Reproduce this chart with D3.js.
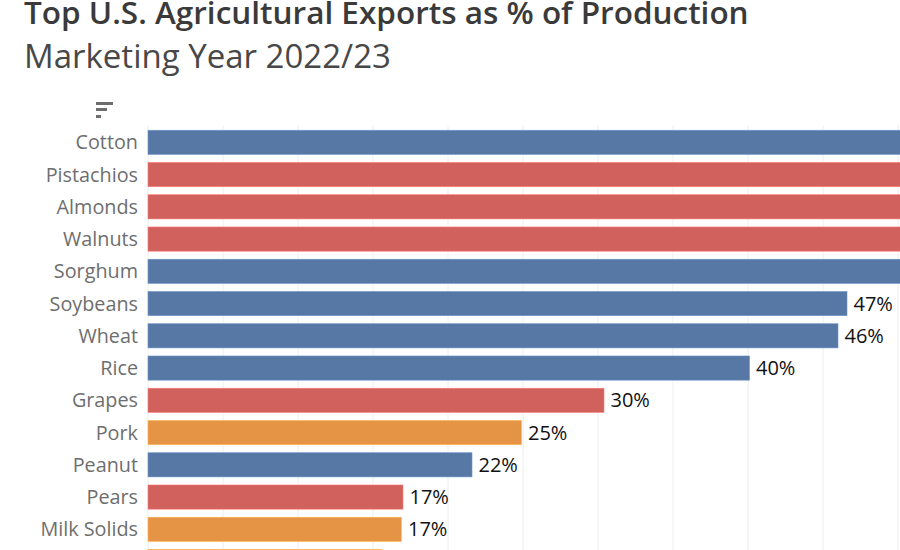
<!DOCTYPE html>
<html lang="en">
<head>
<meta charset="utf-8">
<title>Top U.S. Agricultural Exports as % of Production</title>
<script src="https://cdn.jsdelivr.net/npm/d3@7"></script>
<style>
  html, body { margin: 0; padding: 0; background: #fff; overflow: hidden; }
  svg { display: block; font-family: "Open Sans", "Noto Sans", sans-serif; }
</style>
</head>
<body>
<svg id="chart" width="900" height="550"></svg>
<script>
// values; the top five run past the right edge
var categories = ["Cotton", "Pistachios", "Almonds", "Walnuts", "Sorghum", "Soybeans", "Wheat", "Rice", "Grapes", "Pork", "Peanut", "Pears", "Milk Solids", "Beef"];
var values = [80, 70, 65, 60, 55, 46.6, 46, 40.1, 30.4, 24.9, 21.6, 17, 16.9, 15.6];
var labels = ["", "", "", "", "", "47%", "46%", "40%", "30%", "25%", "22%", "17%", "17%", ""];
var groups = ["crop", "fruit", "fruit", "fruit", "crop", "crop", "crop", "crop", "fruit", "animal", "crop", "fruit", "animal", "animal"];
var groupNames = ["crop", "fruit", "animal"];
var groupColors = ["#5778a4", "#d1615d", "#e49444"];
var gridTicks = [0, 5, 10, 15, 20, 25, 30, 35, 40, 45, 50];

var svg = d3.select("#chart");

var x = d3.scaleLinear().domain([0, 50]).range([148, 898]);
var y = d3.scaleBand().domain(categories).range([126.2, 577.7]).paddingInner(0.25).paddingOuter(0.125);
var color = d3.scaleOrdinal().domain(groupNames).range(groupColors);

// title
svg.append("text").attr("x", 24).attr("y", 24)
  .attr("font-size", 31.5).attr("font-weight", 600).attr("fill", "#3a3a3a")
  .text("Top U.S. Agricultural Exports as % of Production");
svg.append("text").attr("x", 24).attr("y", 68)
  .attr("font-size", 33).attr("fill", "#484848")
  .text("Marketing Year 2022/23");

// gridlines
svg.selectAll("line.grid").data(gridTicks).enter().append("line")
  .attr("class", "grid")
  .attr("x1", function(d) { return x(d); })
  .attr("x2", function(d) { return x(d); })
  .attr("y1", 125).attr("y2", 550)
  .attr("stroke", "#eeeeee").attr("stroke-width", 1);

// sort icon above the axis
var sortIcon = svg.append("g").attr("fill", "#6e6e6e");
sortIcon.append("rect").attr("x", 96).attr("y", 102).attr("width", 17).attr("height", 3);
sortIcon.append("rect").attr("x", 96).attr("y", 108).attr("width", 11).attr("height", 3);
sortIcon.append("rect").attr("x", 96).attr("y", 115).attr("width", 5).attr("height", 3);

// bars
svg.selectAll("rect.bar").data(categories).enter().append("rect")
  .attr("class", "bar")
  .attr("x", x(0))
  .attr("y", function(d) { return y(d); })
  .attr("width", function(d, i) { return x(values[i]) - x(0); })
  .attr("height", y.bandwidth())
  .attr("fill", function(d, i) { return color(groups[i]); })
  .attr("stroke", function(d, i) { return d3.color(color(groups[i])).brighter(0.6); })
  .attr("stroke-width", 0.6);

// category labels
svg.selectAll("text.cat").data(categories.slice(0, 13)).enter().append("text")
  .attr("class", "cat")
  .attr("x", 138)
  .attr("y", function(d) { return y(d) + y.bandwidth() / 2; })
  .attr("dy", "0.35em")
  .attr("text-anchor", "end")
  .attr("font-size", 19.8).attr("fill", "#6e6e6e")
  .text(function(d) { return d; });

// value labels
svg.selectAll("text.val").data(categories).enter().append("text")
  .attr("class", "val")
  .attr("x", function(d, i) { return x(values[i]) + 6.5; })
  .attr("y", function(d) { return y(d) + y.bandwidth() / 2; })
  .attr("dy", "0.35em")
  .attr("font-size", 20).attr("font-weight", 500).attr("fill", "#111")
  .text(function(d, i) { return labels[i]; });
</script>
</body>
</html>
